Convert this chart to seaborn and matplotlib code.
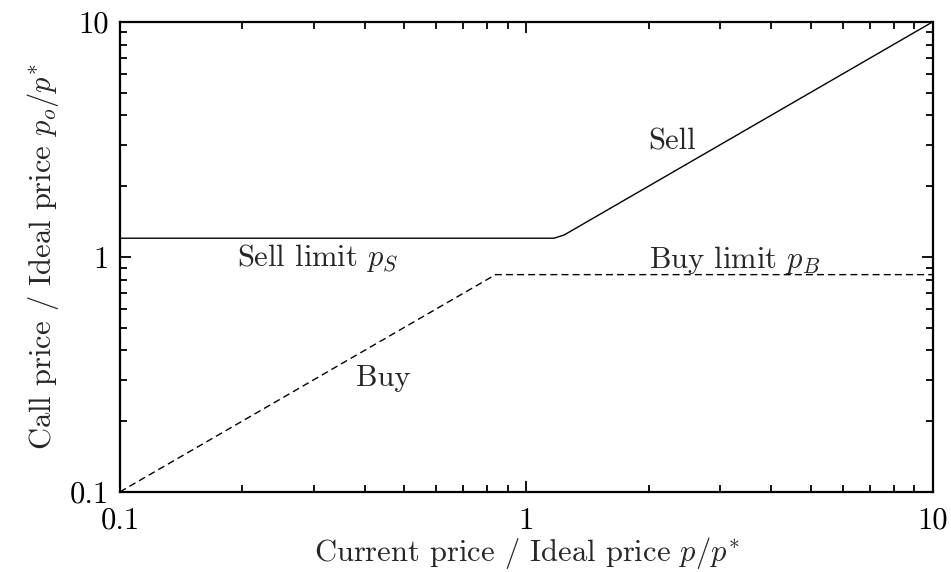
import numpy as np
import pandas as pd
import seaborn as sns
import matplotlib.pyplot as plt

# 數據
buy_price = [0.1, 0.84, 10.0]
buy_call = [0.1, 0.84, 0.84]
sell_price = [0.1, 1.17, 1.24, 10.0]
sell_call = [1.2, 1.2, 1.24, 10.0]

LABELS = ["Sell", r"Sell limit $p_S$", r"Buy limit $p_B$", "Buy"]
LABEL_X = [2.28, 0.307, 3.26, 0.444]
LABEL_Y = [3.08, 0.99, 0.97, 0.305]

sns.set_theme(style="ticks")
plt.rcParams['font.family'] = ['cmr10', 'DejaVu Serif']
plt.rcParams['mathtext.fontset'] = 'cm'
plt.rcParams['axes.formatter.use_mathtext'] = True

FS = 22

df_buy = pd.DataFrame({'p': buy_price, 'po': buy_call})
df_sell = pd.DataFrame({'p': sell_price, 'po': sell_call})

fig, ax = plt.subplots(figsize=(9.51, 5.72), dpi=100)
sns.lineplot(data=df_sell, x='p', y='po', color='black', linewidth=1.0, ax=ax, sort=False)
sns.lineplot(data=df_buy, x='p', y='po', color='black', linewidth=1.0, linestyle=(0, (5, 3)), ax=ax, sort=False)

ax.set_xscale('log')
ax.set_yscale('log')
ax.set_xlim(0.1, 10)
ax.set_ylim(0.1, 10)
ax.set_xticks([0.1, 1, 10])
ax.set_xticklabels(['0.1', '1', '10'])
ax.set_yticks([0.1, 1, 10])
ax.set_yticklabels(['0.1', '1', '10'])

ax.tick_params(which='both', direction='in', top=True, right=True, width=1.3, labelsize=FS, colors='black')
ax.tick_params(which='major', length=8)
ax.tick_params(axis='x', which='major', pad=11)
ax.tick_params(axis='y', which='major', pad=8)
ax.tick_params(which='minor', length=5)
for s in ax.spines.values():
    s.set_linewidth(1.6)
    s.set_color('black')

for txt, x, y in zip(LABELS, LABEL_X, LABEL_Y):
    ax.text(x, y, txt, ha='center', va='center', fontsize=FS)

ax.set_xlabel(r'Current price / Ideal price $p/p^{\!*}$', fontsize=FS, labelpad=0)
ax.set_ylabel(r'Call price / Ideal price $p_o/p^{\!*}$', fontsize=FS, labelpad=6)

plt.subplots_adjust(left=0.126, right=0.981, top=0.962, bottom=0.14)
plt.savefig('out.png', dpi=100)
